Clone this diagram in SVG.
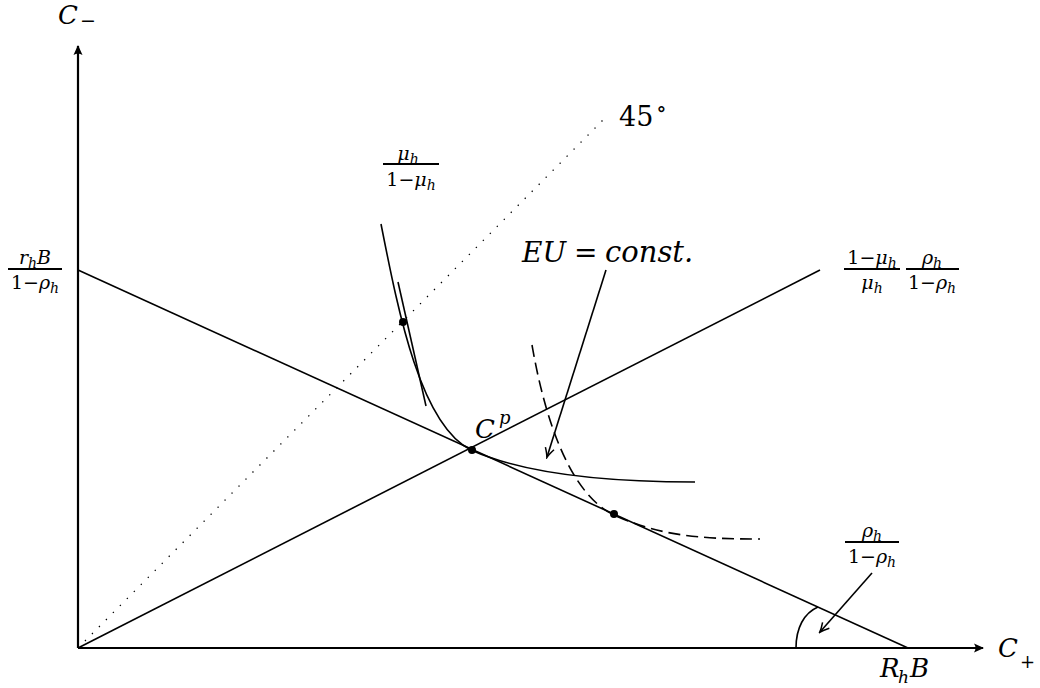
<svg xmlns="http://www.w3.org/2000/svg" width="1040" height="688" viewBox="0 0 1040 688">
<style>
.ln{fill:none;stroke:#000;stroke-width:1.6}
.ax{fill:none;stroke:#000;stroke-width:2.2}
.bar{stroke:#000;stroke-width:2}
</style>
<defs>
<marker id="axArrow" markerUnits="userSpaceOnUse" viewBox="-12 -6 14 12" markerWidth="14" markerHeight="12" refX="0" refY="0" orient="auto">
<path d="M1,0 L-9,-4.5 Q-6,0 -9,4.5 Z" fill="#000"/>
</marker>
<marker id="toArrow" markerUnits="userSpaceOnUse" viewBox="-12 -7 14 14" markerWidth="14" markerHeight="14" refX="0" refY="0" orient="auto">
<path d="M-9,-4.5 Q-3,-1 0.5,0 Q-3,1 -9,4.5" fill="none" stroke="#000" stroke-width="1.5"/>
</marker>
</defs>
<rect width="1040" height="688" fill="#fff"/>

<g id="connectors">
<line class="ax" x1="78" y1="648" x2="78" y2="46" marker-end="url(#axArrow)"/>
<line class="ax" x1="78" y1="648" x2="983" y2="648" marker-end="url(#axArrow)"/>
<line x1="78" y1="648" x2="605" y2="118" stroke="#000" stroke-width="1.3" stroke-dasharray="1.3 8.6" fill="none"/>
<line class="ln" x1="78" y1="270" x2="908" y2="648"/>
<line class="ln" x1="78" y1="648" x2="820" y2="270"/>
<path class="ln" d="M381,224 C398,310 420,425 471,450 C520,472 600,482 695,482"/>
<line class="ln" x1="398" y1="282" x2="426" y2="406"/>
<path class="ln" stroke-dasharray="12 6" d="M532,345 C545,420 570,494 614,515 C660,536 700,539 760,539"/>
<line class="ln" x1="606" y1="270" x2="547" y2="457" marker-end="url(#toArrow)"/>
<line class="ln" x1="872" y1="573" x2="820" y2="632" marker-end="url(#toArrow)"/>
<path class="ln" d="M796,648 C796,628 804,613 818,607"/>
</g>

<g id="points">
<circle cx="403" cy="322" r="4" fill="#000"/>
<circle cx="472" cy="450" r="4" fill="#000"/>
<circle cx="614" cy="514" r="4" fill="#000"/>
</g>

<g font-family="'DejaVu Serif', serif" fill="#000">
<g id="label-cminus">
<text x="58" y="24" font-size="26" font-style="italic">C</text>
<text x="80" y="27" font-size="19">−</text>
</g>
<g id="label-cplus">
<text x="998" y="657" font-size="26" font-style="italic">C</text>
<text x="1020" y="668" font-size="18">+</text>
</g>
<g id="label-rhb">
<text x="880" y="677" font-size="26" font-style="italic">R</text>
<text x="898" y="683" font-size="17" font-style="italic">h</text>
<text x="910" y="677" font-size="26" font-style="italic">B</text>
</g>
<g id="label-45">
<text x="619" y="126" font-size="27">45</text>
<text x="656" y="116" font-size="22">∘</text>
</g>
<g id="label-cp">
<text x="475" y="438" font-size="26" font-style="italic">C</text>
<text x="499" y="424" font-size="18" font-style="italic">p</text>
</g>
<g id="label-eu">
<text x="522" y="262" font-size="28" font-style="italic">EU</text>
<text x="574" y="262" font-size="28">=</text>
<text x="605" y="262" font-size="29" font-style="italic">const.</text>
</g>

<g id="label-mu">
<text x="408" y="160" font-size="19" font-style="italic" text-anchor="middle">μ<tspan font-size="14" dy="4">h</tspan></text>
<line class="bar" x1="383" y1="164" x2="439" y2="164"/>
<text x="411" y="186" font-size="19" text-anchor="middle">1−<tspan font-style="italic">μ</tspan><tspan font-style="italic" font-size="14" dy="4">h</tspan></text>
</g>
<g id="label-rhb-frac">
<text x="35" y="264" font-size="19" font-style="italic" text-anchor="middle">r<tspan font-size="14" dy="4">h</tspan><tspan dy="-4">B</tspan></text>
<line class="bar" x1="8" y1="269" x2="62" y2="269"/>
<text x="35" y="289" font-size="19" text-anchor="middle">1−<tspan font-style="italic">ρ</tspan><tspan font-style="italic" font-size="14" dy="4">h</tspan></text>
</g>
<g id="label-ray">
<text x="872" y="264" font-size="19" text-anchor="middle">1−<tspan font-style="italic">μ</tspan><tspan font-style="italic" font-size="14" dy="4">h</tspan></text>
<line class="bar" x1="844" y1="269" x2="900" y2="269"/>
<text x="872" y="289" font-size="19" font-style="italic" text-anchor="middle">μ<tspan font-size="14" dy="4">h</tspan></text>
<text x="932" y="264" font-size="19" font-style="italic" text-anchor="middle">ρ<tspan font-size="14" dy="4">h</tspan></text>
<line class="bar" x1="906" y1="269" x2="959" y2="269"/>
<text x="932" y="289" font-size="19" text-anchor="middle">1−<tspan font-style="italic">ρ</tspan><tspan font-style="italic" font-size="14" dy="4">h</tspan></text>
</g>
<g id="label-rho">
<text x="872" y="537" font-size="19" font-style="italic" text-anchor="middle">ρ<tspan font-size="14" dy="4">h</tspan></text>
<line class="bar" x1="845" y1="542" x2="899" y2="542"/>
<text x="872" y="563" font-size="19" text-anchor="middle">1−<tspan font-style="italic">ρ</tspan><tspan font-style="italic" font-size="14" dy="4">h</tspan></text>
</g>
</g>
</svg>
